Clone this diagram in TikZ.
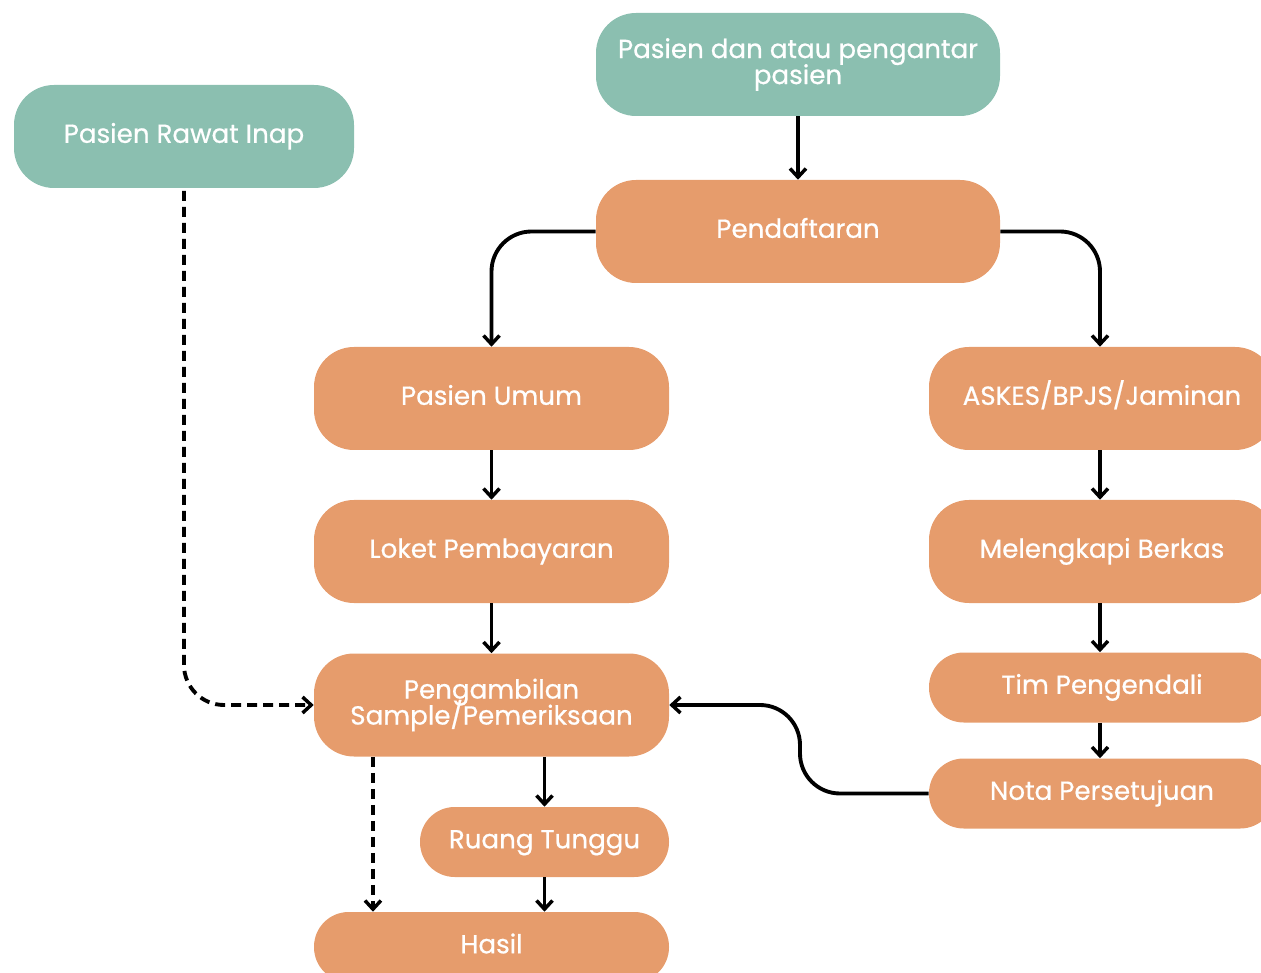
\documentclass[tikz,border=0pt]{standalone}
\usepackage{fontspec}
\setmainfont{Poppins}
\newfontfamily\boxfont{Poppins}[FakeBold=0.6]
\usetikzlibrary{arrows.meta}
\definecolor{teal}{RGB}{139,191,176}
\definecolor{orng}{RGB}{230,156,108}
\begin{document}
\begin{tikzpicture}[x=0.75pt,y=-0.75pt,
  box/.style={inner sep=0pt, text=white, align=center,
    font=\boxfont\fontsize{19.6}{19.5}\selectfont,
    execute at begin node={\lineskiplimit=-20pt\relax}},
  one/.style={text height=14pt, text depth=4.5pt},
  tealbox/.style={box, fill=teal},
  orbox/.style={box, fill=orng},
  tall/.style={minimum height=77.25pt, rounded corners=30pt},
  short/.style={minimum height=52.5pt, rounded corners=26pt},
  conn/.style={line width=2.9pt, -{Straight Barb[length=6.5pt,width=12pt,line width=2.6pt]}},
  dconn/.style={conn, dash pattern=on 7.5pt off 4.5pt}]
\useasboundingbox (0,0) rectangle (1261,973);
\clip (0,0) rectangle (1261,973);
\node[tealbox, tall, one, minimum width=255pt] (inap) at (184,136.5) {Pasien Rawat Inap};
\node[tealbox, tall, minimum width=303pt] (top) at (798,64.5) {Pasien dan atau pengantar\\pasien};
\node[orbox, tall, one, minimum width=303pt] (pend) at (798,231.5) {Pendaftaran};
\node[orbox, tall, one, minimum width=266.25pt] (umum) at (491.5,398.5) {Pasien Umum};
\node[orbox, tall, one, minimum width=266.25pt] (loket) at (491.5,551.5) {Loket Pembayaran};
\node[orbox, tall, minimum width=266.25pt] (samp) at (491.5,705) {Pengambilan\\Sample/Pemeriksaan};
\node[orbox, short, one, minimum width=186.75pt] (ruang) at (544.5,842) {Ruang Tunggu};
\node[orbox, short, one, minimum width=266.25pt] (hasil) at (491.5,947) {Hasil};
\node[orbox, tall, one, minimum width=259.5pt] (askes) at (1102,398.5) {ASKES/BPJS/Jaminan};
\node[orbox, tall, one, minimum width=259.5pt] (berkas) at (1102,551.5) {Melengkapi Berkas};
\node[orbox, short, one, minimum width=259.5pt] (tim) at (1102,687.5) {Tim Pengendali};
\node[orbox, short, one, minimum width=259.5pt] (nota) at (1102,793.5) {Nota Persetujuan};
\coordinate (mid) at (800,705);
\coordinate (rcol) at (1100,0);
\draw[conn] (top.south) -- (pend.north);
\draw[conn, rounded corners=30pt] (pend.west) -| (umum.north);
\draw[conn, rounded corners=30pt] (pend.east) -| (rcol |- askes.north);
\draw[conn] (umum.south) -- (loket.north);
\draw[conn] (loket.south) -- (samp.north);
\draw[conn] (rcol |- askes.south) -- (rcol |- berkas.north);
\draw[conn] (rcol |- berkas.south) -- (rcol |- tim.north);
\draw[conn] (rcol |- tim.south) -- (rcol |- nota.north);
\draw[conn, rounded corners=30pt] (nota.west) -| (mid) -- (samp.east);
\draw[dconn, rounded corners=30pt] ([yshift=-2pt]inap.south) |- (samp.west);
\draw[dconn] ([xshift=-88.9pt]samp.south) -- ([xshift=-88.9pt]hasil.north);
\draw[conn] (samp.south -| ruang.north) -- (ruang.north);
\draw[conn] (ruang.south) -- (ruang.south |- hasil.north);
\end{tikzpicture}
\end{document}
